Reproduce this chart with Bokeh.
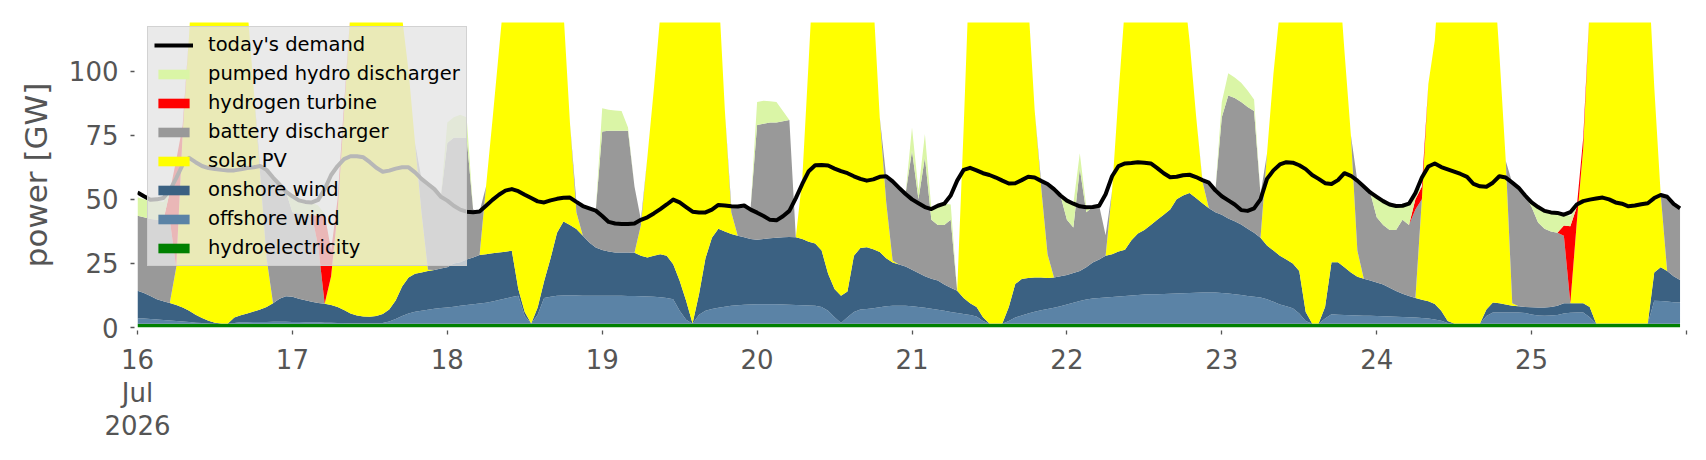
from datetime import datetime, timedelta

from bokeh.plotting import figure
from bokeh.models import ColumnDataSource, Range1d, FixedTicker, Legend, LegendItem
from bokeh.embed import file_html
from bokeh.resources import INLINE

# ---------------- data (GW, hourly, 16 Jul 2026 00:00 -> 25 Jul 2026 23:00) ----------------
start = datetime(2026, 7, 16)
n_hours = 240
times = [start + timedelta(hours=h) for h in range(n_hours)]

hydro_days = [
    [1.5, 1.5, 1.5, 1.5, 1.5, 1.5, 1.5, 1.5, 1.5, 1.5, 1.5, 1.5, 1.5, 1.5, 1.5, 1.5, 1.5, 1.5, 1.5, 1.5, 1.5, 1.5, 1.5, 1.5],
    [1.5, 1.5, 1.5, 1.5, 1.5, 1.5, 1.5, 1.5, 1.5, 1.5, 1.5, 1.5, 1.5, 1.5, 1.5, 1.5, 1.5, 1.5, 1.5, 1.5, 1.5, 1.5, 1.5, 1.5],
    [1.5, 1.5, 1.5, 1.5, 1.5, 1.5, 1.5, 1.5, 1.5, 1.5, 1.5, 1.5, 1.5, 1.5, 1.5, 1.5, 1.5, 1.5, 1.5, 1.5, 1.5, 1.5, 1.5, 1.5],
    [1.5, 1.5, 1.5, 1.5, 1.5, 1.5, 1.5, 1.5, 1.5, 1.5, 1.5, 1.5, 1.5, 1.5, 1.5, 1.5, 1.5, 1.5, 1.5, 1.5, 1.5, 1.5, 1.5, 1.5],
    [1.5, 1.5, 1.5, 1.5, 1.5, 1.5, 1.5, 1.5, 1.5, 1.5, 1.5, 1.5, 1.5, 1.5, 1.5, 1.5, 1.5, 1.5, 1.5, 1.5, 1.5, 1.5, 1.5, 1.5],
    [1.5, 1.5, 1.5, 1.5, 1.5, 1.5, 1.5, 1.5, 1.5, 1.5, 1.5, 1.5, 1.5, 1.5, 1.5, 1.5, 1.5, 1.5, 1.5, 1.5, 1.5, 1.5, 1.5, 1.5],
    [1.5, 1.5, 1.5, 1.5, 1.5, 1.5, 1.5, 1.5, 1.5, 1.5, 1.5, 1.5, 1.5, 1.5, 1.5, 1.5, 1.5, 1.5, 1.5, 1.5, 1.5, 1.5, 1.5, 1.5],
    [1.5, 1.5, 1.5, 1.5, 1.5, 1.5, 1.5, 1.5, 1.5, 1.5, 1.5, 1.5, 1.5, 1.5, 1.5, 1.5, 1.5, 1.5, 1.5, 1.5, 1.5, 1.5, 1.5, 1.5],
    [1.5, 1.5, 1.5, 1.5, 1.5, 1.5, 1.5, 1.5, 1.5, 1.5, 1.5, 1.5, 1.5, 1.5, 1.5, 1.5, 1.5, 1.5, 1.5, 1.5, 1.5, 1.5, 1.5, 1.5],
    [1.5, 1.5, 1.5, 1.5, 1.5, 1.5, 1.5, 1.5, 1.5, 1.5, 1.5, 1.5, 1.5, 1.5, 1.5, 1.5, 1.5, 1.5, 1.5, 1.5, 1.5, 1.5, 1.5, 1.5],
]

offshore_days = [
    [2.1, 2.0, 1.8, 1.6, 1.4, 1.2, 1.0, 0.8, 0.6, 0.4, 0.3, 0.1, 0, 0, 0, 0.3, 0.5, 0.5, 0.6, 0.6, 0.6, 0.7, 0.7, 0.7],
    [0.6, 0.6, 0.5, 0.5, 0.5, 0.4, 0.4, 0.3, 0.3, 0.2, 0.2, 0.2, 0.2, 0.2, 0.3, 0.8, 1.8, 3.0, 4.0, 4.6, 5.0, 5.4, 5.8, 6.1],
    [6.3, 6.6, 7.0, 7.3, 7.6, 7.9, 8.2, 8.6, 9.2, 9.8, 10.4, 10.9, 3.0, 0, 3.5, 10.0, 10.5, 10.9, 11.0, 11.0, 11.0, 10.9, 10.9, 10.9],
    [10.9, 10.9, 10.9, 10.9, 10.8, 10.8, 10.7, 10.6, 10.5, 10.3, 10.0, 9.5, 5.0, 1.5, 0, 3.5, 5.0, 5.7, 6.2, 6.6, 7.0, 7.2, 7.4, 7.5],
    [7.6, 7.6, 7.6, 7.6, 7.5, 7.4, 7.3, 7.2, 7.1, 7.0, 6.5, 5.0, 2.5, 0.3, 2.5, 4.5, 5.5, 5.7, 6.0, 6.4, 6.8, 7.0, 7.0, 7.0],
    [6.8, 6.5, 6.2, 5.8, 5.4, 5.0, 4.5, 4.2, 3.8, 3.4, 2.8, 1.0, 0, 0, 0, 1.0, 2.4, 3.2, 4.0, 4.6, 5.2, 5.7, 6.2, 6.8],
    [7.5, 8.2, 8.8, 9.4, 9.8, 10.0, 10.2, 10.4, 10.6, 10.8, 11.0, 11.2, 11.4, 11.5, 11.5, 11.6, 11.7, 11.8, 11.9, 12.0, 12.1, 12.2, 12.2, 12.2],
    [12.0, 11.8, 11.5, 11.2, 10.8, 10.5, 10.2, 9.5, 8.5, 7.5, 6.8, 6.0, 4.0, 1.0, 0, 0, 2.0, 3.7, 3.5, 3.4, 3.3, 3.2, 3.1, 3.1],
    [3.0, 2.9, 2.8, 2.7, 2.6, 2.5, 2.4, 2.2, 2.0, 1.6, 1.1, 0.3, 0, 0, 0, 0, 0, 3.0, 4.4, 4.4, 4.4, 4.4, 4.4, 4.2],
    [3.6, 3.2, 3.1, 3.2, 3.4, 4.0, 4.3, 4.4, 4.4, 2.5, 0, 0, 0, 0, 0, 0, 0, 0, 0, 8.9, 8.8, 8.6, 8.4, 8.3],
]

onshore_days = [
    [10.7, 10.0, 9.0, 7.9, 7.3, 6.9, 6.3, 5.5, 4.4, 3.1, 1.9, 1.0, 0.4, 0.1, 0.1, 2.1, 2.8, 3.5, 4.1, 4.9, 5.9, 7.3, 9.0, 10.0],
    [9.9, 9.1, 8.6, 8.0, 7.6, 7.4, 6.9, 6.2, 5.0, 3.8, 3.0, 2.6, 2.5, 2.8, 3.5, 4.7, 7.2, 11.5, 14.0, 14.9, 15.0, 15.1, 15.1, 15.4],
    [15.7, 16.9, 17.0, 17.7, 18.2, 18.9, 18.9, 18.9, 18.6, 18.3, 18.0, 2.6, 1.5, 0.1, 2.8, 6.5, 15.0, 24.6, 28.9, 27.5, 25.9, 23.4, 20.8, 18.8],
    [17.8, 17.3, 16.9, 16.9, 17.0, 16.9, 15.8, 15.2, 16.0, 16.8, 16.5, 13.7, 11.7, 7.4, 0.1, 8.0, 20.5, 27.8, 30.8, 29.4, 28.0, 27.1, 26.3, 25.5],
    [25.1, 25.4, 25.7, 25.9, 26.2, 26.4, 26.4, 25.8, 24.9, 24.3, 22.0, 14.5, 11.0, 10.6, 10.0, 22.0, 24.0, 24.1, 23.0, 21.6, 18.7, 16.9, 16.1, 15.3],
    [14.2, 13.3, 12.3, 11.7, 11.4, 10.3, 9.5, 8.6, 6.2, 4.6, 3.7, 1.5, 0.1, 0.1, 0.1, 5.5, 13.1, 14.2, 13.8, 13.4, 12.8, 12.1, 11.8, 11.7],
    [11.5, 11.6, 11.7, 12.6, 14.1, 15.0, 16.3, 16.7, 17.6, 18.0, 21.5, 24.0, 25.1, 27.0, 29.0, 30.9, 32.8, 36.7, 38.1, 39.0, 36.9, 34.8, 32.8, 31.3],
    [30.5, 29.2, 28.5, 27.5, 26.2, 25.0, 23.3, 21.0, 20.0, 19.0, 18.2, 17.5, 16.5, 3.5, 0.1, 0.1, 4.5, 20.3, 20.5, 18.6, 16.7, 15.1, 14.4, 13.7],
    [13.1, 12.4, 11.2, 10.0, 9.1, 8.3, 7.6, 7.1, 6.7, 6.1, 3.9, 0.7, 0.1, 0.1, 0.1, 0.1, 0.1, 2.5, 3.9, 3.6, 3.1, 2.6, 2.4, 2.3],
    [2.8, 3.1, 3.2, 3.3, 3.6, 4.0, 3.7, 3.6, 3.6, 4.0, 0.1, 0.1, 0.1, 0.1, 0.1, 0.1, 0.1, 0.1, 0.1, 11.1, 13.2, 11.9, 10.1, 8.7],
]

solar_days = [
    [0, 0, 0, 0, 0, 0, 14.6, 68, 108, 155, 200, 230, 245, 245, 230, 200, 165, 120, 87, 53, 19, 0, 0, 0],
    [0, 0, 0, 0, 0, 0, 11.2, 37, 77, 117.5, 170, 215, 240, 245, 235, 205, 165, 105, 80.5, 51, 23.5, 0.5, 0, 0],
    [0, 0, 0, 0, 0, 0, 26.4, 52, 78.7, 105.4, 170, 230, 250, 265, 255, 235, 200, 150, 82, 40, 6.6, 0, 0, 0],
    [0, 0, 0, 0, 0, 0, 12, 39.2, 65, 93.4, 150, 200, 225, 240, 250, 230, 200, 160, 95, 47.5, 8.5, 0, 0, 0],
    [0, 0, 0, 0, 0, 0, 0, 23.5, 71, 120, 165, 200, 220, 225, 220, 190, 160, 120, 97.5, 52.5, 22, 0.6, 0, 0],
    [0, 0, 0, 0, 0, 0, 0, 0, 66.1, 137, 175, 205, 225, 230, 225, 205, 170, 130, 108, 65.5, 35.5, 9.3, 0, 0],
    [0, 0, 0, 0, 0, 0, 0, 24.9, 61.3, 95.7, 150, 180, 200, 205, 195, 175, 140, 100, 83.5, 59.5, 32.5, 8.5, 0, 0],
    [0, 0, 0, 0, 0, 0, 0, 35.8, 69, 96, 140, 175, 200, 225, 235, 230, 210, 170, 117.5, 84.5, 53.5, 10.2, 0, 0],
    [0, 0, 0, 0, 0, 0, 0, 39.2, 84.8, 102.8, 143.5, 185, 215, 235, 240, 230, 210, 175, 135, 97.5, 56, 1, 0, 0],
    [0, 0, 0, 0, 0, 0, 0, 31.5, 60.5, 117, 170, 210, 235, 245, 240, 225, 200, 165, 142.4, 72.5, 28.5, 0, 0, 0],
]

battery_days = [
    [29.3, 29.5, 30.0, 31.0, 31.5, 32.4, 0, 0, 0, 0, 0, 0, 0, 0, 0, 0, 0, 0, 0, 3, 34.5, 49, 44.6, 40.8],
    [33, 33.3, 33.4, 34, 22, 0, 0, 0, 0, 0, 0, 0, 0, 0, 0, 0, 0, 0, 0, 0, 13, 33.5, 31.6, 28],
    [48.5, 49, 48.5, 47.5, 18.7, 17, 0, 0, 0, 0, 0, 0, 0, 0, 0, 0, 0, 0, 0, 0, 4, 11.6, 13.3, 14.4],
    [46.3, 47.1, 47.5, 47.5, 47.5, 25.8, 2, 0, 0, 0, 0, 0, 0, 0, 0, 0, 0, 0, 0, 0, 2.3, 11.4, 12.4, 12.5],
    [44.8, 45, 45.2, 45, 45.3, 45.7, 0, 0, 0, 0, 0, 0, 0, 0, 0, 0, 0, 0, 0, 0, 10, 31, 29.9, 28.3],
    [46.5, 28.7, 46.4, 23, 21.7, 23.2, 26.5, 0, 0, 0, 0, 0, 0, 0, 0, 0, 0, 0, 0, 0, 2.2, 27.4, 34.5, 31.5],
    [21.5, 17.7, 40, 21.5, 21.6, 21, 8, 0, 0, 0, 0, 0, 0, 0, 0, 0, 0, 0, 0, 0, 0, 0.5, 10, 8.5],
    [38, 48, 48, 47.8, 47.5, 47.5, 17, 0, 0, 0, 0, 0, 0, 0, 0, 0, 0, 0, 0, 0, 0, 27.3, 36, 34.4],
    [25.4, 23.2, 22.5, 23.8, 28.8, 27.7, 34.5, 0, 0, 0, 0, 0, 0, 0, 0, 0, 0, 0, 0, 0, 0, 47, 46.2, 43.5],
    [39.1, 33.2, 30.7, 29.5, 28.5, 26.3, 0, 0, 0, 0, 0, 0, 0, 0, 0, 0, 0, 0, 0, 0, 0, 29, 28.2, 28],
]

hydrogen_days = [
    [0, 0, 0, 0, 0, 11, 42, 3, 0, 0, 0, 0, 0, 0, 0, 0, 0, 0, 0, 0, 0, 0, 0, 0],
    [0, 0, 0, 0, 12, 35, 10, 5, 3, 0, 0, 0, 0, 0, 0, 0, 0, 0, 0, 0, 0, 0, 0, 0],
    [0, 0, 0, 0, 0, 0, 0, 0, 0, 0, 0, 0, 0, 0, 0, 0, 0, 0, 0, 0, 0, 0, 0, 0],
    [0, 0, 0, 0, 0, 0, 0, 0, 0, 0, 0, 0, 0, 0, 0, 0, 0, 0, 0, 0, 0, 0, 0, 0],
    [0, 0, 0, 0, 0, 0, 0, 0, 0, 0, 0, 0, 0, 0, 0, 0, 0, 0, 0, 0, 0, 0, 0, 0],
    [0, 0, 0, 0, 0, 0, 0, 0, 0, 0, 0, 0, 0, 0, 0, 0, 0, 0, 0, 0, 0, 0, 0, 0],
    [0, 0, 0, 0, 0, 0, 0, 0, 0, 0, 0, 0, 0, 0, 0, 0, 0, 0, 0, 0, 0, 0, 0, 0],
    [0, 0, 0, 0, 0, 0, 0, 0, 0, 0, 0, 0, 0, 0, 0, 0, 0, 0, 0, 0, 0, 0, 0, 0],
    [0, 0, 0, 0, 0, 0, 4, 5, 0, 0, 0, 0, 0, 0, 0, 0, 0, 0, 0, 0, 0, 0, 0, 0],
    [0, 0, 0, 0, 0, 4, 30, 6, 4, 0, 0, 0, 0, 0, 0, 0, 0, 0, 0, 0, 0, 0, 0, 0],
]

pumped_days = [
    [7.2, 7.0, 7.4, 7.5, 7.3, 0, 0, 0, 0, 0, 0, 0, 0, 0, 0, 0, 0, 0, 0, 0, 0, 0, 0, 0],
    [5, 5.1, 5, 4.8, 4, 0, 0, 0, 0, 0, 0, 0, 0, 0, 0, 0, 0, 0, 0, 0, 0, 0, 0, 0],
    [8, 8, 9, 8, 0, 0, 0, 0, 0, 0, 0, 0, 0, 0, 0, 0, 0, 0, 0, 0, 0, 0, 0, 0],
    [9, 8.2, 7.9, 7.7, 1.2, 0, 0, 0, 0, 0, 0, 0, 0, 0, 0, 0, 0, 0, 0, 0, 0, 0, 0, 0],
    [9, 9, 8.3, 8, 4, 0, 0, 0, 0, 0, 0, 0, 0, 0, 0, 0, 0, 0, 0, 0, 0, 0, 0, 0],
    [9, 3.5, 9.1, 4.2, 7.5, 8.3, 6, 0, 0, 0, 0, 0, 0, 0, 0, 0, 0, 0, 0, 0, 0, 0, 0, 0],
    [7.5, 9.3, 6, 2, 0, 0, 0, 0, 0, 0, 0, 0, 0, 0, 0, 0, 0, 0, 0, 0, 0, 0, 0, 0],
    [6, 8.7, 8, 7.5, 6.5, 4.5, 0, 0, 0, 0, 0, 0, 0, 0, 0, 0, 0, 0, 0, 0, 0, 0, 0, 0],
    [8, 9.3, 10, 9.4, 5.5, 8.3, 2.5, 0, 0, 0, 0, 0, 0, 0, 0, 0, 0, 0, 0, 0, 0, 0, 0, 0],
    [1.8, 6, 7, 7.4, 7.7, 4.5, 4, 0, 0, 0, 0, 0, 0, 0, 0, 0, 0, 0, 0, 0, 0, 0, 0, 0],
]

demand_days = [
    [52.7, 51.2, 49.8, 50.0, 50.5, 53.5, 58.3, 63.5, 66.2, 64.5, 63.0, 62.2, 61.8, 61.5, 61.3, 61.3, 61.7, 62.2, 62.5, 63.0, 61.5, 58.5, 55.8, 53.0],
    [51.2, 49.6, 49.0, 48.8, 49.8, 54.0, 59.5, 63.0, 65.7, 66.8, 66.8, 66.4, 64.5, 62.3, 60.8, 61.2, 62.0, 62.5, 62.5, 60.5, 58.0, 56.0, 54.0, 51.0],
    [49.5, 47.5, 46.0, 45.2, 45.0, 45.3, 47.5, 49.8, 51.8, 53.4, 54.0, 53.2, 51.8, 50.5, 49.2, 48.8, 49.6, 50.2, 50.6, 50.7, 49.0, 47.4, 46.5, 45.6],
    [43.5, 41.2, 40.6, 40.4, 40.4, 40.6, 42.0, 43.0, 44.5, 46.2, 48.0, 49.9, 48.8, 47.0, 45.2, 44.9, 44.9, 46.0, 47.8, 47.6, 47.3, 47.2, 47.6, 46.0],
    [44.8, 43.5, 42.0, 41.8, 43.4, 45.5, 50.5, 56.0, 61.0, 63.3, 63.4, 63.2, 62.0, 61.0, 60.2, 59.0, 58.0, 57.3, 57.8, 58.8, 59.0, 57.0, 54.5, 52.1],
    [50.0, 48.5, 47.0, 46.2, 47.5, 48.3, 51.5, 57.3, 61.5, 62.3, 61.3, 60.2, 59.5, 58.5, 57.3, 56.2, 56.3, 57.5, 58.8, 58.5, 57.2, 56.0, 54.0, 51.5],
    [49.5, 48.3, 47.3, 46.9, 47.0, 47.5, 52.0, 59.0, 63.0, 64.0, 64.2, 64.5, 64.3, 64.0, 62.2, 60.2, 58.6, 58.8, 59.4, 59.6, 58.7, 57.5, 56.5, 53.5],
    [51.2, 49.6, 48.0, 45.8, 45.5, 46.5, 50.0, 58.0, 61.3, 63.6, 64.5, 64.3, 63.3, 61.8, 59.5, 58.0, 56.3, 56.0, 57.5, 60.2, 59.2, 57.3, 55.0, 52.7],
    [51.0, 49.3, 48.0, 47.4, 47.5, 48.3, 52.5, 58.5, 62.8, 64.0, 62.6, 61.7, 60.8, 59.9, 58.8, 56.0, 55.1, 54.9, 56.5, 59.0, 58.5, 56.5, 54.5, 51.5],
    [48.8, 47.0, 45.5, 44.9, 44.7, 44.0, 45.0, 48.0, 49.3, 49.9, 50.3, 50.7, 50.0, 48.8, 48.3, 47.3, 47.6, 48.1, 48.5, 50.5, 51.7, 51.0, 48.2, 46.5],
]

series_colors = ["#008000", "#5b83a6", "#3b6182", "#ffff00", "#999999", "#ff0000", "#daf5a6"]
y_ticks = [0, 25, 50, 75, 100]
day_ticks = [start + timedelta(days=d) for d in range(11)]


def flat(days):
    return [v for day in days for v in day]


src = ColumnDataSource(dict(
    time=times,
    hydro=flat(hydro_days),
    offshore=flat(offshore_days),
    onshore=flat(onshore_days),
    solar=flat(solar_days),
    battery=flat(battery_days),
    hydrogen=flat(hydrogen_days),
    pumped=flat(pumped_days),
    demand=flat(demand_days),
))

# ---------------- figure ----------------
FONT = "DejaVu Sans"
GREY = "#555555"

p = figure(
    x_axis_type="datetime",
    frame_width=1549, frame_height=305,
    min_border_left=137, min_border_right=4, min_border_top=22, min_border_bottom=10,
    output_backend="svg", toolbar_location=None,
    x_range=Range1d(start, start + timedelta(hours=240)),
    y_range=Range1d(0, 119),
)
p.background_fill_color = "white"
p.border_fill_color = "white"
p.outline_line_color = None
p.grid.visible = False

stackers = ["hydro", "offshore", "onshore", "solar", "battery", "hydrogen", "pumped"]
areas = p.varea_stack(stackers=stackers, x="time", color=series_colors, source=src)
line_r = p.line("time", "demand", source=src, line_color="black", line_width=4, line_join="round")

# axes
for ax in (p.xaxis[0], p.yaxis[0]):
    ax.axis_line_color = None
    ax.major_tick_line_color = GREY
    ax.major_tick_line_width = 1.3
    ax.major_tick_in = -3
    ax.major_tick_out = 7
    ax.minor_tick_line_color = None
    ax.major_label_text_font = FONT
    ax.major_label_text_font_size = "26px"
    ax.major_label_text_color = GREY

p.yaxis.ticker = FixedTicker(ticks=y_ticks)
p.yaxis.major_label_standoff = 12
p.yaxis.axis_label = "power [GW]"
p.yaxis.axis_label_text_font = FONT
p.yaxis.axis_label_text_font_size = "31px"
p.yaxis.axis_label_text_font_style = "normal"
p.yaxis.axis_label_text_color = GREY
p.yaxis.axis_label_standoff = 12

epoch = datetime(1970, 1, 1)
tick_ms = [int((d - epoch).total_seconds() * 1000) for d in day_ticks]
labels = {}
for i, (ms, d) in enumerate(zip(tick_ms, day_ticks)):
    if i == 0:
        labels[ms] = f"{d.day}\n{d.strftime('%b')}\n{d.year}"
    elif i == len(day_ticks) - 1:
        labels[ms] = ""
    else:
        labels[ms] = f"{d.day}"
p.xaxis.ticker = FixedTicker(ticks=tick_ms)
p.xaxis.major_label_overrides = labels
p.xaxis.major_label_standoff = 10
p.xaxis.major_label_text_line_height = 1.1

# legend (ordered as in the original)
legend_order = [("today's demand", line_r),
                ("pumped hydro discharger", areas[6]),
                ("hydrogen turbine", areas[5]),
                ("battery discharger", areas[4]),
                ("solar PV", areas[3]),
                ("onshore wind", areas[2]),
                ("offshore wind", areas[1]),
                ("hydroelectricity", areas[0])]
legend = Legend(items=[LegendItem(label=l, renderers=[r]) for l, r in legend_order],
                location=(10, 61))
legend.background_fill_color = "#e5e5e5"
legend.background_fill_alpha = 0.8
legend.border_line_color = "#cccccc"
legend.border_line_alpha = 0.8
legend.label_text_font = FONT
legend.label_text_font_size = "19.5px"
legend.label_text_color = "black"
legend.glyph_width = 39
legend.glyph_height = 12
legend.label_height = 22
legend.label_standoff = 15
legend.spacing = 6
legend.padding = 6
legend.margin = 0
p.add_layout(legend)

open("out.html", "w").write(file_html(p, INLINE))
